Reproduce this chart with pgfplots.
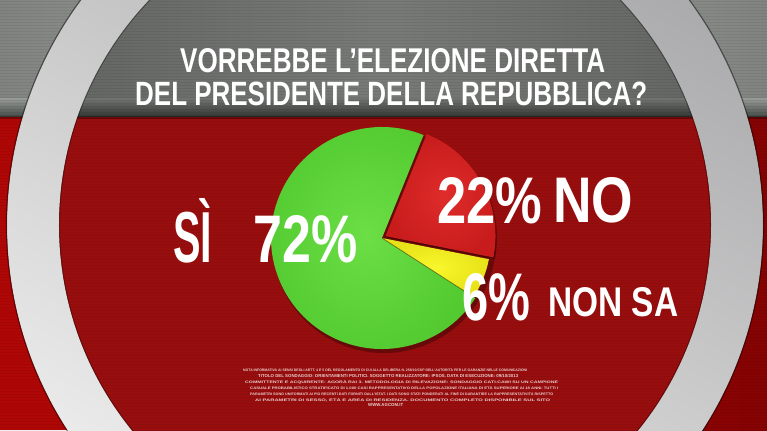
\documentclass[border=0pt]{standalone}
\usepackage{pgfplots}
\pgfplotsset{compat=1.18}
\usepackage{pgfplotstable}
\usepackage{graphicx}
\usepackage{fontspec}
\setmainfont{Liberation Sans}

\definecolor{bandmid}{RGB}{160,164,160}
\definecolor{bandedge}{RGB}{128,131,128}
\definecolor{banddark}{RGB}{72,78,74}
\definecolor{redin}{RGB}{204,20,20}
\definecolor{redmid}{RGB}{184,10,10}
\definecolor{redout}{RGB}{110,0,0}
\definecolor{redcorner}{RGB}{175,6,6}
\definecolor{ringtop}{RGB}{168,168,170}
\definecolor{ringbot}{RGB}{238,238,238}
\definecolor{pgreen}{RGB}{108,222,70}
\definecolor{pgreendk}{RGB}{82,202,48}
\definecolor{pred}{RGB}{222,44,42}
\definecolor{preddk}{RGB}{200,28,28}
\definecolor{pyellow}{RGB}{248,246,44}
\definecolor{pyellowdk}{RGB}{232,226,24}

\pgfdeclareradialshading{redbg}{\pgfpoint{0bp}{0bp}}{color(0bp)=(redin); color(26bp)=(redin); color(45bp)=(redmid); color(50bp)=(redout)}

\pgfplotstableread{
label value
Si 72
NonSa 6
No 22
}\pietable

\newcommand{\shtext}[5]{%
  \node[anchor=base west, inner sep=0pt, text=white] at (axis cs:#1,#2) {\resizebox{#3bp}{#4bp}{\bfseries #5}};
}
\newcommand{\fn}[4]{%
  \node[anchor=base west, inner sep=0pt, text=white, opacity=0.8] at (axis cs:#1,#2) {\resizebox{#3bp}{3.1bp}{\bfseries #4}};
}

\begin{document}
\begin{tikzpicture}
\pgfplotstablegetelem{0}{value}\of\pietable \pgfmathsetmacro\vSi{\pgfplotsretval}
\pgfplotstablegetelem{1}{value}\of\pietable \pgfmathsetmacro\vNs{\pgfplotsretval}
\pgfplotstablegetelem{2}{value}\of\pietable \pgfmathsetmacro\vNo{\pgfplotsretval}
\pgfmathsetmacro\aStart{68}
\pgfmathsetmacro\aSiEnd{\aStart+3.6*\vSi}
\pgfmathsetmacro\aNsEnd{\aSiEnd+3.6*\vNs}
\pgfmathsetmacro\aNoEnd{\aNsEnd+3.6*\vNo}
\pgfmathsetmacro\aNoMid{(\aNsEnd+\aNoEnd)/2}
\begin{axis}[
  x=1bp, y=1bp,
  xmin=0, xmax=767, ymin=0, ymax=430, y dir=reverse,
  xtick=\empty, ytick=\empty, axis line style={draw=none},
  hide axis, clip=true]
\coordinate (SW) at (axis cs:0,430);
\coordinate (NE) at (axis cs:767,0);
% background
\fill[redcorner] (axis cs:0,0) rectangle (axis cs:767,430);
\shade[left color=redcorner, right color=redout!70!redmid] (axis cs:384,0) rectangle (axis cs:767,430);
\shade[shading=redbg] (axis cs:385,235) circle[radius=330bp];
% grey band
\shade[left color=bandedge, right color=bandmid] (axis cs:0,0) rectangle (axis cs:384,100);
\shade[left color=bandmid, right color=bandedge] (axis cs:384,0) rectangle (axis cs:767,100);
\shade[top color=bandmid!95!black, bottom color=banddark] (axis cs:0,98) rectangle (axis cs:767,116);
\fill[black, opacity=0.3] (axis cs:0,116) rectangle (axis cs:767,119);
% stripes
\pgfplotsinvokeforeach{1,4,...,430}{\draw[black, opacity=0.06, line width=1bp] (axis cs:0,#1) -- (axis cs:767,#1);}
% ring
\fill[black, opacity=0.25] (axis cs:385,225) circle[radius=334bp];
\shade[even odd rule, top color=ringtop, bottom color=ringbot, shading angle=-30] (axis cs:385,225) circle[radius=378bp] (axis cs:385,225) circle[radius=326bp];
\draw[black, opacity=0.45, line width=1.2bp] (axis cs:385,225) circle[radius=378.5bp];
\draw[black, opacity=0.35, line width=1bp] (axis cs:385,225) circle[radius=325.5bp];
% pie shadow
\fill[black, opacity=0.3] (axis cs:384,241) circle[radius=112bp];
% pie slices
\shade[inner color=pgreen, outer color=pgreendk] (axis cs:382,238) -- ++(\aStart:111bp) arc[start angle=\aStart, end angle=\aSiEnd, radius=111bp] -- cycle;
\shade[inner color=pyellow, outer color=pyellowdk] (axis cs:382,238) -- ++(\aSiEnd:109bp) arc[start angle=\aSiEnd, end angle=\aNsEnd, radius=109bp] -- cycle;
\draw[black, opacity=0.4, line width=0.8bp] (axis cs:382,238) -- ++(\aSiEnd:109bp);
\begin{scope}[shift={(\aNoMid:4bp)}]
\fill[black, opacity=0.3] ([shift={(1.5bp,-1.5bp)}]axis cs:382,238) -- ++(\aNsEnd:110bp) arc[start angle=\aNsEnd, end angle=\aNoEnd, radius=110bp] -- cycle;
\shade[inner color=pred, outer color=preddk] (axis cs:382,238) -- ++(\aNsEnd:110bp) arc[start angle=\aNsEnd, end angle=\aNoEnd, radius=110bp] -- cycle;
\end{scope}
% title
\shtext{180}{72}{425}{24}{VORREBBE L'ELEZIONE DIRETTA}
\shtext{135}{105}{512}{23.5}{DEL PRESIDENTE DELLA REPUBBLICA?}
% labels
\shtext{173}{262}{39}{64}{SÌ}
\shtext{253}{262}{104}{47}{72\%}
\shtext{437}{223}{105}{46}{22\%}
\shtext{553}{222}{80}{45}{NO}
\shtext{462}{320}{68}{47}{6\%}
\shtext{548}{316}{130}{29}{NON SA}
% footnote
\fn{243}{371.5}{284}{NOTA INFORMATIVA AI SENSI DEGLI ARTT. 4 E 5 DEL REGOLAMENTO DI CUI ALLA DELIBERA N. 256/10/CSP DELL'AUTORITÀ PER LE GARANZIE NELLE COMUNICAZIONI}
\fn{258}{377.2}{260}{TITOLO DEL SONDAGGIO: ORIENTAMENTI POLITICI. SOGGETTO REALIZZATORE: IPSOS. DATA DI ESECUZIONE: 09/10/2013}
\fn{245}{383.2}{313}{COMMITTENTE E ACQUIRENTE: AGORÀ RAI 3. METODOLOGIA DI RILEVAZIONE: SONDAGGIO CATI-CAWI SU UN CAMPIONE}
\fn{250}{389.5}{308}{CASUALE PROBABILISTICO STRATIFICATO DI 1.000 CASI RAPPRESENTATIVO DELLA POPOLAZIONE ITALIANA DI ETÀ SUPERIORE AI 18 ANNI. TUTTI I}
\fn{250}{395.2}{303}{PARAMETRI SONO UNIFORMATI AI PIÙ RECENTI DATI FORNITI DALL'ISTAT. I DATI SONO STATI PONDERATI AL FINE DI GARANTIRE LA RAPPRESENTATIVITÀ RISPETTO}
\fn{255}{401}{295}{AI PARAMETRI DI SESSO, ETÀ E AREA DI RESIDENZA. DOCUMENTO COMPLETO DISPONIBILE SUL SITO}
\fn{368}{406.5}{35}{WWW.AGCOM.IT}
\end{axis}
\pgfresetboundingbox
\useasboundingbox (SW) rectangle (NE);
\end{tikzpicture}
\end{document}
